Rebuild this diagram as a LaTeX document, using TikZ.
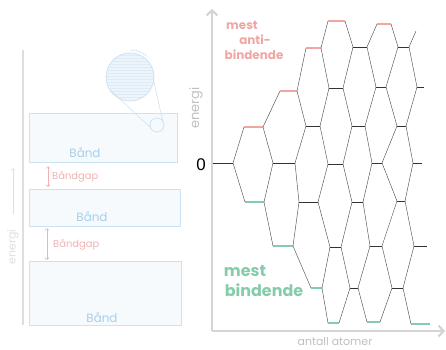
\documentclass[tikz,border=0pt]{standalone}
\usepackage{fontspec}
\setsansfont{Liberation Sans}
\newfontfamily\handfont{Poppins}
\usetikzlibrary{arrows.meta,positioning}

\definecolor{antipink}{RGB}{240,166,162}
\definecolor{bondgreen}{RGB}{132,204,170}
\definecolor{axisgray}{RGB}{212,212,212}
\definecolor{linkgray}{RGB}{78,78,78}
\definecolor{bandblue}{RGB}{204,227,245}
\definecolor{bandtext}{RGB}{166,207,236}
\definecolor{gappink}{RGB}{240,178,178}
\definecolor{fadegray}{RGB}{222,222,222}

\begin{document}
\begin{tikzpicture}[x=1bp,y=-1bp,
      level/.style={line width=0.9pt,black!80},
      antilevel/.style={line width=1.7pt,antipink},
      bondlevel/.style={line width=1.7pt,bondgreen},
      link/.style={line width=0.45pt,linkgray},
      axis/.style={line width=2.2pt,axisgray,-{Straight Barb[length=5pt,width=11pt]}},
      hand/.style={font=\handfont\fontsize{#1}{#1}\selectfont,inner sep=0pt},
      boldhand/.style={font=\handfont\bfseries\fontsize{#1}{#1}\selectfont,inner sep=0pt},
      band/.style={draw=bandblue,fill=bandblue!18,line width=0.8pt},
      gap/.style={line width=0.6pt,gappink,{Straight Barb[length=2pt,width=4pt]}-{Straight Barb[length=2pt,width=4pt]}}
      ]
      \useasboundingbox (0,0) rectangle (446,349);

      % left panel: faded band picture
      \draw[fadegray,line width=1.2pt] (23,50) -- (23,325);
      \coordinate (e1) at (13,214);
      \coordinate (e2) at (13,168);
      \draw[fadegray,line width=0.6pt,-{Straight Barb[length=2pt,width=4pt]}] (e1) -- (e2);
      \node[hand=11,text=fadegray,rotate=90] (enleft) at (13,247) {energi};

      \draw[band] (29,113) rectangle (177,162);
      \draw[band] (29,189) rectangle (180,226);
      \draw[band] (29,261) rectangle (181,325);
      \node[hand=12,text=bandtext] (b1) at (85,153) {Bånd};
      \node[hand=12,text=bandtext] (b2) at (92,217) {Bånd};
      \node[hand=12,text=bandtext] (b3) at (102,318) {Bånd};

      \coordinate (g1a) at (48,187);
      \coordinate (g1b) at (48,166);
      \coordinate (g2a) at (47,260);
      \coordinate (g2b) at (47,228);
      \draw[gap] (g1a) -- (g1b);
      \draw[gap] (g2a) -- (g2b);
      \node[hand=10,text=gappink,anchor=west] (gap1) at (52,177) {Båndgap};
      \node[hand=10,text=gappink,anchor=west] (gap2) at (53,245) {Båndgap};

      % magnifier over the top band
      \coordinate (lens) at (130,77);
      \coordinate (spot) at (157,125);
      \begin{scope}
        \clip (lens) circle[radius=24];
        \fill[bandblue!35] (lens) circle[radius=24];
        \foreach \h in {-22,-19,...,22}
          \draw[bandblue!70,line width=0.5pt] (100,77+\h) -- (160,77+\h);
      \end{scope}
      \draw[bandblue,line width=0.8pt] (lens) circle[radius=24];
      \draw[bandblue,line width=0.8pt] (spot) circle[radius=7];
      \draw[bandblue,line width=0.6pt] (110,90) -- (151,128);
      \draw[bandblue,line width=0.6pt] (153,78) -- (163,122);
      \draw[bandblue,line width=1.2pt,dash pattern=on 1.5pt off 1pt] (lens) ++(-88:27) arc[start angle=-88,end angle=-50,radius=27];

      % right panel: axes
      \coordinate (origin) at (212,331);
      \coordinate (ytip) at (212,9);
      \coordinate (xtip) at (445,331);
      \draw[axis] (origin) -- (ytip);
      \draw[axis] (origin) -- (xtip);
      \node[hand=13,text=axisgray!90!black,rotate=90] (enright) at (196,108) {energi};
      \node[hand=11,text=axisgray!90!black] (atoms) at (335,341) {antall atomer};
      \node[font=\sffamily\fontsize{17}{17}\selectfont] (zero) at (201,165) {0};

      % energy levels: column-slot / left / right / y / style
      \foreach \n/\xl/\xr/\yy/\sty in {
        0-4/213/233/163/level,
        1-3/244/263/127/antilevel, 1-5/245/264/202/bondlevel,
        2-2/280/297/91/antilevel, 2-4/273/295/163/level, 2-6/273/293/246/bondlevel,
        3-1/306/321/48/antilevel, 3-3/306/320/126/level, 3-5/299/318/202/level, 3-7/311/322/288/bondlevel,
        4-0/328/345/21/antilevel, 4-2/329/343/88/level, 4-4/328/343/164/level, 4-6/330/341/247/level, 4-8/328/339/323/bondlevel,
        5-1/353/367/47/level, 5-3/352/365/126/level, 5-5/352/363/202/level, 5-7/350/358/288/level,
        6-0/377/391/24/antilevel, 6-2/376/386/87/level, 6-4/372/382/163/level, 6-6/370/382/246/level, 6-8/367/380/322/bondlevel,
        7-1/398/409/47/level, 7-3/397/406/126/level, 7-5/397/405/201/level, 7-7/392/403/288/level,
        8-2/417/424/87/level, 8-4/413/422/163/level, 8-6/414/427/246/level, 8-8/411/430/324/bondlevel}
      {
        \coordinate (L\n) at (\xl,\yy);
        \coordinate (R\n) at (\xr,\yy);
        \draw[\sty] (L\n) -- (R\n);
      }
      \coordinate (loose) at (416,31);

      % links between neighbouring columns
      \foreach \a/\b in {0-4/1-3, 0-4/1-5,
        1-3/2-2, 1-3/2-4, 1-5/2-4, 1-5/2-6,
        2-2/3-1, 2-2/3-3, 2-4/3-3, 2-4/3-5, 2-6/3-5, 2-6/3-7,
        3-1/4-0, 3-1/4-2, 3-3/4-2, 3-3/4-4, 3-5/4-4, 3-5/4-6, 3-7/4-6, 3-7/4-8,
        4-0/5-1, 4-2/5-1, 4-2/5-3, 4-4/5-3, 4-4/5-5, 4-6/5-5, 4-6/5-7, 4-8/5-7,
        5-1/6-0, 5-1/6-2, 5-3/6-2, 5-3/6-4, 5-5/6-4, 5-5/6-6, 5-7/6-6, 5-7/6-8,
        6-0/7-1, 6-2/7-1, 6-2/7-3, 6-4/7-3, 6-4/7-5, 6-6/7-5, 6-6/7-7, 6-8/7-7,
        7-3/8-2, 7-3/8-4, 7-5/8-4, 7-5/8-6, 7-7/8-6, 7-7/8-8, 7-1/8-2}
        \draw[link] (R\a) -- (L\b);
      \draw[link] (R7-1) -- (loose);

      % labels for the outermost levels
      \node[boldhand=12,text=antipink] (top1) at (242,25) {mest};
      \node[boldhand=12,text=antipink] (top2) at (255,40) {anti-};
      \node[boldhand=12,text=antipink] (top3) at (254,55) {bindende};
      \node[boldhand=16,text=bondgreen] (bot1) at (245,271) {mest};
      \node[boldhand=16,text=bondgreen] (bot2) at (264,290) {bindende};
\end{tikzpicture}
\end{document}
